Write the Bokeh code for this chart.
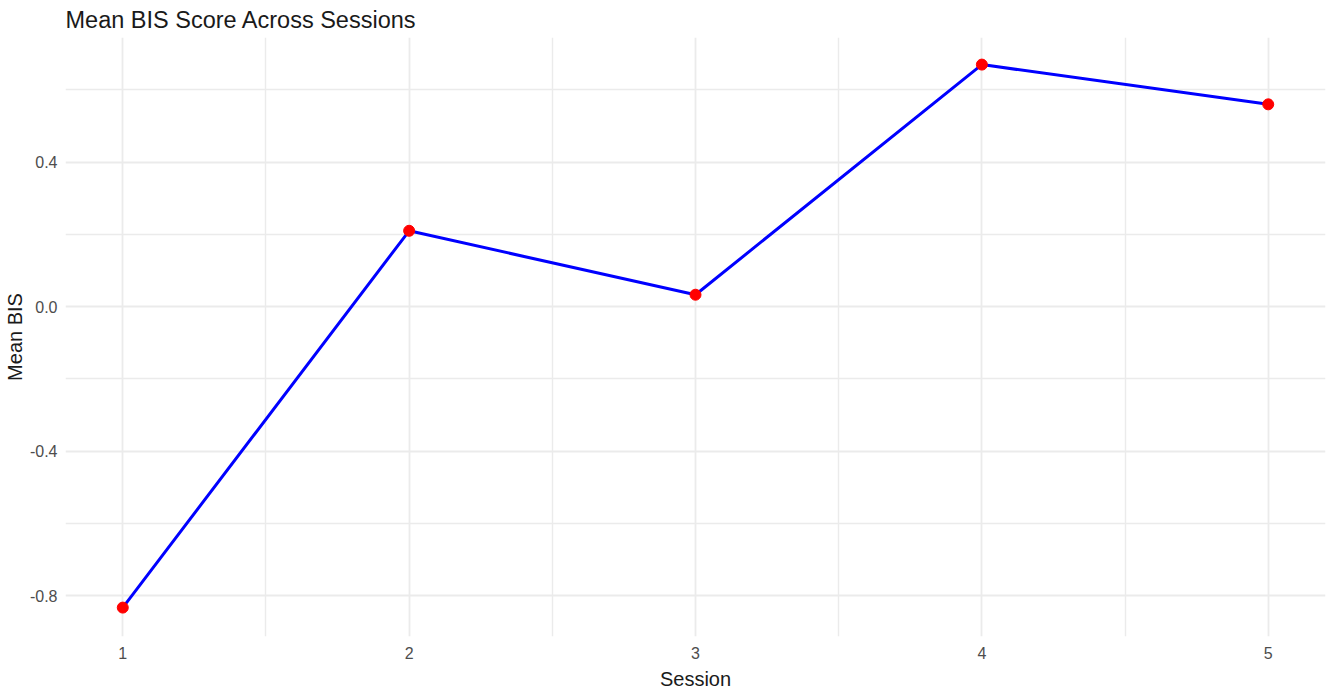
from bokeh.plotting import figure
from bokeh.models import Range1d, FixedTicker
from bokeh.embed import file_html
from bokeh.resources import INLINE

sessions = [1, 2, 3, 4, 5]
mean_bis = [-0.833, 0.21, 0.033, 0.670, 0.56]
x_ticks = [1, 2, 3, 4, 5]
x_minor = [1.5, 2.5, 3.5, 4.5]
y_ticks = [-0.8, -0.4, 0.0, 0.4]
y_minor = [-0.6, -0.2, 0.2, 0.6]
title_text = "Mean BIS Score Across Sessions"
x_label = "Session"
y_label = "Mean BIS"

FONT = "Liberation Sans"

p = figure(width=1328, height=692, output_backend="svg", toolbar_location=None,
           x_range=Range1d(0.8, 5.2), y_range=Range1d(-0.913, 0.745),
           title=title_text,
           min_border_left=65, min_border_right=3, min_border_bottom=55, min_border_top=0)

p.title.text_font = FONT
p.title.text_font_size = "23.5px"
p.title.text_font_style = "normal"
p.title.text_color = "#1a1a1a"
p.title.offset = 0
p.title.standoff = 9

p.outline_line_color = None
p.background_fill_color = "white"
p.border_fill_color = "white"

p.xaxis.ticker = FixedTicker(ticks=x_ticks, minor_ticks=x_minor)
p.yaxis.ticker = FixedTicker(ticks=y_ticks, minor_ticks=y_minor)
p.yaxis.major_label_overrides = {-0.8: "-0.8", -0.4: "-0.4", 0.0: "0.0", 0.4: "0.4"}

for ax in (p.xaxis[0], p.yaxis[0]):
    ax.axis_line_color = None
    ax.major_tick_line_color = None
    ax.minor_tick_line_color = None
    ax.major_tick_out = 0
    ax.minor_tick_out = 0
    ax.major_tick_in = 0
    ax.minor_tick_in = 0
    ax.major_label_text_font = FONT
    ax.major_label_text_font_size = "16px"
    ax.major_label_text_color = "#4D4D4D"
    ax.axis_label_text_font = FONT
    ax.axis_label_text_font_size = "20px"
    ax.axis_label_text_font_style = "normal"
    ax.axis_label_text_color = "#1a1a1a"

p.xaxis.axis_label = x_label
p.yaxis.axis_label = y_label
p.xaxis.major_label_standoff = 10
p.yaxis.major_label_standoff = 8
p.xaxis.axis_label_standoff = 6
p.yaxis.axis_label_standoff = 1

for g in (p.xgrid[0], p.ygrid[0]):
    g.grid_line_color = "#EBEBEB"
    g.grid_line_width = 1.8
    g.minor_grid_line_color = "#EBEBEB"
    g.minor_grid_line_width = 1.4

p.line(sessions, mean_bis, line_color="#0000FF", line_width=3)
p.scatter(sessions, mean_bis, size=11, fill_color="#FF0000", line_color="#FF0000")

open("out.html", "w").write(file_html(p, INLINE))
